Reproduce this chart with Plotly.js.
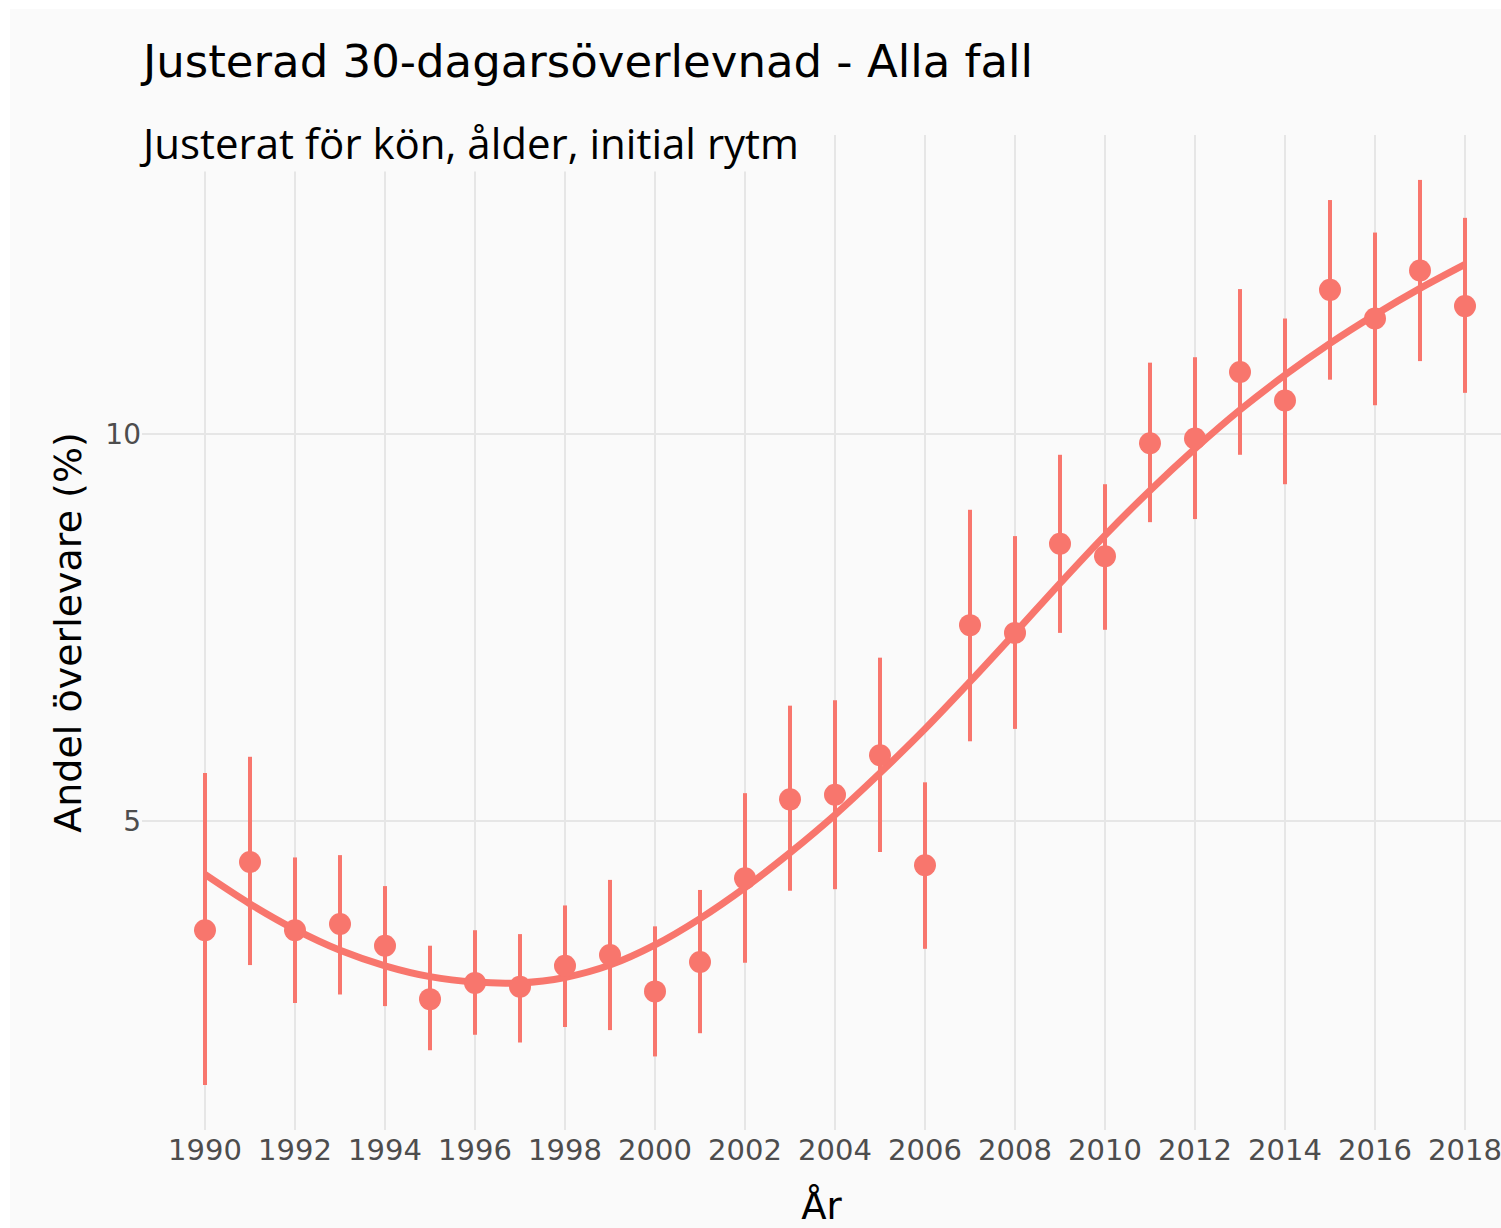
<!DOCTYPE html>
<html>
<head>
<meta charset="utf-8">
<script src="https://cdn.plot.ly/plotly-3.0.1.min.js"></script>
<style>
  html, body { margin: 0; padding: 0; background: #ffffff; overflow: hidden; }
  #chart { position: absolute; left: 10px; top: 9px; width: 1550px; height: 1219px; }
</style>
</head>
<body>
<div id="chart"></div>
<script>
// Justerad 30-dagarsöverlevnad, per år: punktskattning, konfidensintervall och utjämnad kurva
const years = [1990, 1991, 1992, 1993, 1994, 1995, 1996, 1997, 1998, 1999,
               2000, 2001, 2002, 2003, 2004, 2005, 2006, 2007, 2008, 2009,
               2010, 2011, 2012, 2013, 2014, 2015, 2016, 2017, 2018];
const est   = [3.59, 4.47, 3.59, 3.67, 3.39, 2.70, 2.91, 2.86, 3.13, 3.27,
               2.80, 3.18, 4.26, 5.28, 5.34, 5.85, 4.43, 7.53, 7.43, 8.58,
               8.42, 9.88, 9.94, 10.80, 10.43, 11.86, 11.49, 12.11, 11.65];
const lower = [1.59, 3.14, 2.65, 2.76, 2.61, 2.04, 2.24, 2.14, 2.34, 2.30,
               1.96, 2.26, 3.17, 4.10, 4.12, 4.60, 3.35, 6.03, 6.19, 7.43,
               7.47, 8.86, 8.90, 9.73, 9.35, 10.70, 10.37, 10.94, 10.53];
const upper = [5.62, 5.83, 4.53, 4.56, 4.16, 3.39, 3.59, 3.54, 3.91, 4.24,
               3.64, 4.11, 5.36, 6.49, 6.56, 7.11, 5.50, 9.02, 8.68, 9.73,
               9.35, 10.92, 10.99, 11.87, 11.49, 13.02, 12.60, 13.28, 12.79];
const fitted = [4.31, 3.93, 3.60, 3.33, 3.13, 2.99, 2.92, 2.91, 2.98, 3.14,
                3.40, 3.74, 4.14, 4.59, 5.08, 5.62, 6.19, 6.80, 7.43, 8.07,
                8.69, 9.27, 9.81, 10.31, 10.76, 11.17, 11.54, 11.88, 12.19];
const tickYears = [1990, 1992, 1994, 1996, 1998, 2000, 2002, 2004,
                   2006, 2008, 2010, 2012, 2014, 2016, 2018];

const RED = "#F8766D";
const GRID = "#E6E6E6";
const BG = "#FAFAFA";
const FONT = "DejaVu Sans, Verdana, sans-serif";

const fitTrace = {
  x: years, y: fitted, type: "scatter", mode: "lines",
  line: { color: RED, width: 7, shape: "spline", smoothing: 1 },
  hoverinfo: "skip",
};
const pointTrace = {
  x: years, y: est, type: "scatter", mode: "markers",
  marker: { color: RED, size: 22 },
  error_y: {
    type: "data", symmetric: false,
    array: est.map((v, i) => upper[i] - v),
    arrayminus: est.map((v, i) => v - lower[i]),
    color: RED, thickness: 4, width: 0,
  },
};

// figuren är bredare än fönstret: högerkanten (som i originalet) klipps av
const layout = {
  width: 1550, height: 1219,
  paper_bgcolor: BG, plot_bgcolor: BG,
  margin: { l: 132, r: 59, t: 126, b: 98 },
  showlegend: false,
  font: { family: FONT, color: "#000000" },
  title: {
    text: "Justerad 30-dagarsöverlevnad - Alla fall",
    font: { family: FONT, size: 45, color: "#000000" },
    x: 0.0858, xanchor: "left", xref: "container",
    y: 0.957, yanchor: "middle", yref: "container",
  },
  xaxis: {
    range: [1988.6, 2018.8],
    tickvals: tickYears, ticktext: tickYears.map(String),
    showgrid: true, gridcolor: GRID, gridwidth: 2,
    zeroline: false, showline: false, ticks: "",
    tickfont: { family: FONT, size: 29, color: "#4D4D4D" },
    title: { text: "År", font: { family: FONT, size: 37, color: "#000000" }, standoff: 36 },
    automargin: false,
  },
  yaxis: {
    range: [1.01, 13.86],
    tickvals: [5, 10],
    showgrid: true, gridcolor: GRID, gridwidth: 2,
    zeroline: false, showline: false, ticks: "",
    tickfont: { family: FONT, size: 28, color: "#4D4D4D" },
    title: { text: "Andel överlevare (%)", font: { family: FONT, size: 38, color: "#000000" }, standoff: 12 },
    automargin: false,
  },
  annotations: [{
    text: "Justerat för kön, ålder, initial rytm",
    xref: "paper", yref: "paper", x: -0.003, y: 0.992,
    xanchor: "left", yanchor: "middle", showarrow: false,
    bgcolor: BG, borderpad: 0,
    font: { family: "Open Sans, Noto Sans, sans-serif", size: 42, color: "#000000" },
  }],
};

Plotly.newPlot("chart", [fitTrace, pointTrace], layout, { displayModeBar: false, staticPlot: true });
</script>
</body>
</html>
